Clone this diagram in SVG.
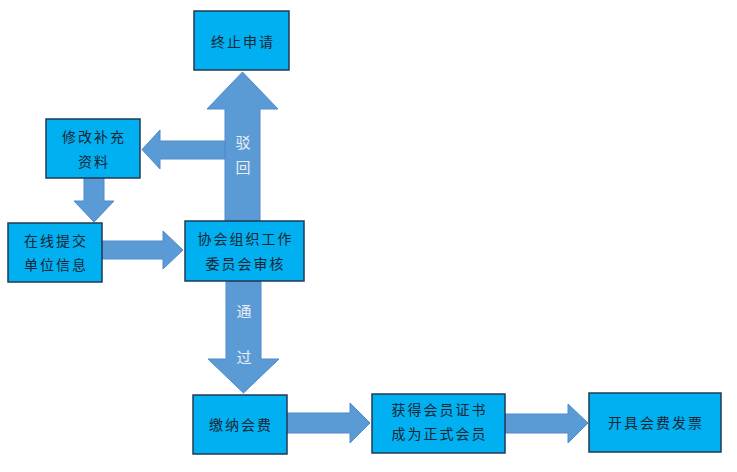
<svg xmlns="http://www.w3.org/2000/svg" width="737" height="472" viewBox="0 0 737 472">
<style>
.box{fill:#00B0F0;stroke:#203a55;stroke-width:1.5}
.arr{fill:#5B9BD5;stroke:#4F8ACB;stroke-width:1}
.t{font-family:"Noto Sans CJK SC","Liberation Sans",sans-serif;font-size:14px;fill:#1a2633;text-anchor:middle;letter-spacing:2px}
.lbl{font-family:"Noto Sans CJK SC","Liberation Sans",sans-serif;font-size:15px;fill:#e8eef5;text-anchor:middle}
</style>
<rect width="737" height="472" fill="#ffffff"/>
<g id="connectors">
<polygon class="arr" points="225,221 225,109 207,109 242.5,72 278,109 260,109 260,221"/>
<polygon class="arr" points="225,141 160,141 160,130 142,149.5 160,169 160,159 225,159"/>
<polygon class="arr" points="84,178 104,178 104,201 114,201 94,222 74,201 84,201"/>
<polygon class="arr" points="102,241 163,241 163,231 183,250 163,269 163,259 102,259"/>
<polygon class="arr" points="226,281 261,281 261,359 279,359 243.5,393 208,359 226,359"/>
<polygon class="arr" points="287,413 350,413 350,403 370,423 350,443 350,433 287,433"/>
<polygon class="arr" points="505,414 568,414 568,404 588,423 568,443 568,433 505,433"/>
<text class="lbl" x="243" y="148">驳</text>
<text class="lbl" x="243" y="173">回</text>
<text class="lbl" x="244" y="317">通</text>
<text class="lbl" x="244" y="363">过</text>
</g>
<g id="node-terminate">
<rect class="box" x="194" y="11" width="95" height="59"/>
<text class="t" x="243" y="47">终止申请</text>
</g>
<g id="node-modify">
<rect class="box" x="46" y="119" width="94" height="59"/>
<text class="t" x="94" y="142">修改补充</text>
<text class="t" x="94" y="167">资料</text>
</g>
<g id="node-submit">
<rect class="box" x="8" y="223" width="94" height="59"/>
<text class="t" x="56" y="246">在线提交</text>
<text class="t" x="56" y="270">单位信息</text>
</g>
<g id="node-review">
<rect class="box" x="185" y="221" width="119" height="60"/>
<text class="t" x="245.5" y="244">协会组织工作</text>
<text class="t" x="245.5" y="269">委员会审核</text>
</g>
<g id="node-pay">
<rect class="box" x="193" y="395" width="94" height="59"/>
<text class="t" x="241" y="430">缴纳会费</text>
</g>
<g id="node-cert">
<rect class="box" x="372" y="394" width="133" height="59"/>
<text class="t" x="439.5" y="415">获得会员证书</text>
<text class="t" x="439.5" y="439">成为正式会员</text>
</g>
<g id="node-invoice">
<rect class="box" x="589" y="393" width="132" height="59"/>
<text class="t" x="656" y="428">开具会费发票</text>
</g>
</svg>
